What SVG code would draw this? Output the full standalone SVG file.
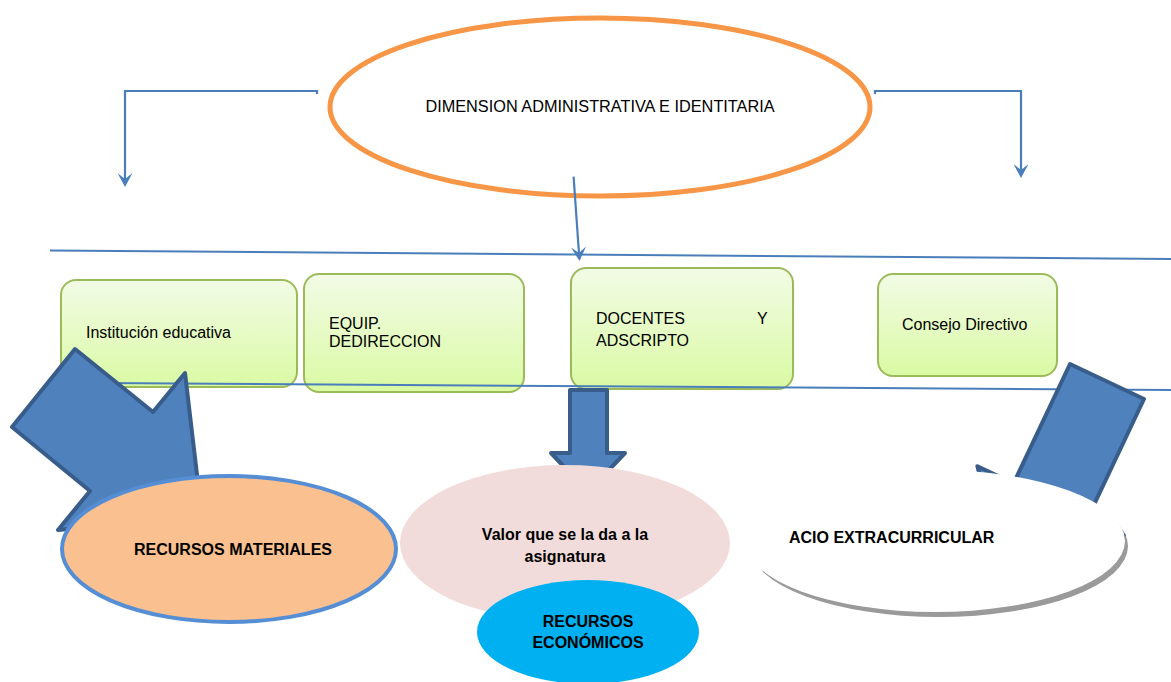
<svg xmlns="http://www.w3.org/2000/svg" width="1171" height="682" viewBox="0 0 1171 682">
<style>
.t{font-family:"Liberation Sans",Arial,sans-serif;font-size:16px;fill:#000}
.b{font-weight:bold}
.box{stroke:#9bbb59;stroke-width:2;fill:url(#gBox)}
.conn{fill:none;stroke:#4a7ebb;stroke-width:2.2}
.sep{stroke:#4a7ebb;stroke-width:2}
.big{fill:#4f81bd;stroke:#385d8a;stroke-width:4;stroke-linejoin:round}
</style>
<defs>
<linearGradient id="gBox" x1="0" y1="0" x2="0" y2="1">
<stop offset="0" stop-color="#f2fbe6"/>
<stop offset="1" stop-color="#dafaa4"/>
</linearGradient>
<marker id="arr" viewBox="0 0 14 15" refX="9" refY="7.5" markerWidth="14" markerHeight="15" markerUnits="userSpaceOnUse" orient="auto">
<path d="M0,0 L14,7.5 L0,15 L6,7.5 Z" fill="#4a7ebb"/>
</marker>
</defs>
<rect width="1171" height="682" fill="#fff"/>

<g id="separator-top">
<line class="sep" x1="50" y1="250.5" x2="1171" y2="259"/>
</g>

<g id="dimension">
<ellipse cx="600" cy="107" rx="270" ry="89" fill="#fff" stroke="#f79646" stroke-width="5"/>
<text class="t" x="600" y="112" text-anchor="middle" style="font-size:16.3px">DIMENSION ADMINISTRATIVA E IDENTITARIA</text>
</g>

<g id="connectors">
<path class="conn" d="M317,94 V91 H125 V182" marker-end="url(#arr)"/>
<path class="conn" d="M875,94 V91 H1021 V173" marker-end="url(#arr)"/>
<path class="conn" d="M573.6,176.7 L579.15,256" marker-end="url(#arr)"/>
</g>

<g id="institucion">
<rect class="box" x="61" y="280" width="236" height="107" rx="15"/>
<text class="t" x="86" y="338">Institución educativa</text>
</g>
<g id="equipo">
<rect class="box" x="304" y="274" width="220" height="118" rx="15"/>
<text class="t" x="329" y="329">EQUIP.</text>
<text class="t" x="329" y="347">DEDIRECCION</text>
</g>
<g id="docentes">
<rect class="box" x="571" y="268" width="222" height="121" rx="15"/>
<text class="t" x="596" y="324">DOCENTES</text>
<text class="t" x="757" y="324">Y</text>
<text class="t" x="596" y="346">ADSCRIPTO</text>
</g>
<g id="consejo">
<rect class="box" x="878" y="274" width="179" height="102" rx="15"/>
<text class="t" x="902" y="330">Consejo Directivo</text>
</g>

<g id="separator-bottom">
<line class="sep" x1="100" y1="383" x2="1171" y2="390"/>
</g>

<g id="arrow-left">
<polygon class="big" points="75,349 153,412 185,373 202,517 58,530 90,491 12,427"/>
</g>
<g id="recursos-materiales">
<ellipse cx="229" cy="549" rx="167" ry="73" fill="#fac08f" stroke="#558ed5" stroke-width="4"/>
<text class="t b" x="233" y="555" text-anchor="middle">RECURSOS MATERIALES</text>
</g>

<g id="arrow-middle">
<polygon class="big" points="570,390 607,390 607,453 625,453 588,492 551,453 570,453"/>
</g>
<g id="valor">
<ellipse cx="565" cy="543" rx="165" ry="78" fill="#f2dcdb"/>
<text class="t b" x="565" y="540" text-anchor="middle">Valor que se la da a la</text>
<text class="t b" x="565" y="562" text-anchor="middle">asignatura</text>
</g>
<g id="recursos-economicos">
<ellipse cx="588" cy="632" rx="111" ry="52" fill="#00b0f0"/>
<text class="t b" x="588" y="627" text-anchor="middle">RECURSOS</text>
<text class="t b" x="588" y="648" text-anchor="middle">ECONÓMICOS</text>
</g>

<g id="extracurricular">
<ellipse cx="939" cy="546" rx="189" ry="71" fill="#9a9a9a"/>
<polygon class="big" points="1070,364 1144,399 1087.6,518.3 1123.8,535.3 1008,591 977.4,466.2 1013.6,483.3"/>
<ellipse cx="935" cy="541" rx="190" ry="71" fill="#fff"/>
<text class="t b" x="789" y="543">ACIO EXTRACURRICULAR</text>
</g>
</svg>
